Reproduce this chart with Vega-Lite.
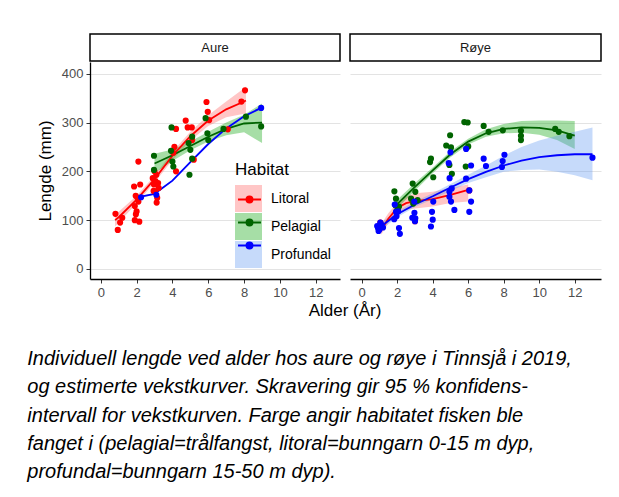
{
  "$schema": "https://vega.github.io/schema/vega-lite/v6.json",
  "background": "white",
  "padding": {"left": 27, "top": 33, "right": 5, "bottom": 5},
  "title": {
    "text": [
      "Individuell lengde ved alder hos aure og røye i Tinnsjå i 2019,",
      "og estimerte vekstkurver. Skravering gir 95 % konfidens-",
      "intervall for vekstkurven. Farge angir habitatet fisken ble",
      "fanget i (pelagial=trålfangst, litoral=bunngarn 0-15 m dyp,",
      "profundal=bunngarn 15-50 m dyp)."
    ],
    "orient": "bottom",
    "anchor": "start",
    "frame": "bounds",
    "font": "Liberation Sans",
    "fontSize": 20,
    "fontStyle": "italic",
    "fontWeight": "normal",
    "color": "black",
    "lineHeight": 28.3,
    "offset": 28,
    "dx": -9
  },
  "datasets": {
    "pts": [
      {"Art": "Aure", "Habitat": "Litoral", "Alder": 0.82, "Lengde": 113},
      {"Art": "Aure", "Habitat": "Litoral", "Alder": 0.95, "Lengde": 80},
      {"Art": "Aure", "Habitat": "Litoral", "Alder": 1.08, "Lengde": 95},
      {"Art": "Aure", "Habitat": "Litoral", "Alder": 1.2, "Lengde": 105},
      {"Art": "Aure", "Habitat": "Litoral", "Alder": 1.86, "Lengde": 169},
      {"Art": "Aure", "Habitat": "Litoral", "Alder": 1.9, "Lengde": 129},
      {"Art": "Aure", "Habitat": "Litoral", "Alder": 1.96, "Lengde": 112},
      {"Art": "Aure", "Habitat": "Litoral", "Alder": 1.9, "Lengde": 100},
      {"Art": "Aure", "Habitat": "Litoral", "Alder": 2.05, "Lengde": 146},
      {"Art": "Aure", "Habitat": "Litoral", "Alder": 2.15, "Lengde": 97},
      {"Art": "Aure", "Habitat": "Litoral", "Alder": 2.1, "Lengde": 220},
      {"Art": "Aure", "Habitat": "Litoral", "Alder": 2.2, "Lengde": 173},
      {"Art": "Aure", "Habitat": "Litoral", "Alder": 2.0, "Lengde": 118},
      {"Art": "Aure", "Habitat": "Litoral", "Alder": 2.1, "Lengde": 138},
      {"Art": "Aure", "Habitat": "Litoral", "Alder": 1.95, "Lengde": 150},
      {"Art": "Aure", "Habitat": "Litoral", "Alder": 2.9, "Lengde": 186},
      {"Art": "Aure", "Habitat": "Litoral", "Alder": 2.97, "Lengde": 173},
      {"Art": "Aure", "Habitat": "Litoral", "Alder": 3.04, "Lengde": 159},
      {"Art": "Aure", "Habitat": "Litoral", "Alder": 3.1, "Lengde": 193},
      {"Art": "Aure", "Habitat": "Litoral", "Alder": 3.2, "Lengde": 176},
      {"Art": "Aure", "Habitat": "Litoral", "Alder": 3.12, "Lengde": 136},
      {"Art": "Aure", "Habitat": "Litoral", "Alder": 3.15, "Lengde": 146},
      {"Art": "Aure", "Habitat": "Litoral", "Alder": 3.0, "Lengde": 200},
      {"Art": "Aure", "Habitat": "Litoral", "Alder": 3.23, "Lengde": 166},
      {"Art": "Aure", "Habitat": "Litoral", "Alder": 2.95, "Lengde": 160},
      {"Art": "Aure", "Habitat": "Litoral", "Alder": 3.05, "Lengde": 180},
      {"Art": "Aure", "Habitat": "Litoral", "Alder": 4.2, "Lengde": 287},
      {"Art": "Aure", "Habitat": "Litoral", "Alder": 4.11, "Lengde": 250},
      {"Art": "Aure", "Habitat": "Litoral", "Alder": 4.05, "Lengde": 238},
      {"Art": "Aure", "Habitat": "Litoral", "Alder": 4.2, "Lengde": 200},
      {"Art": "Aure", "Habitat": "Litoral", "Alder": 4.74, "Lengde": 304},
      {"Art": "Aure", "Habitat": "Litoral", "Alder": 4.85, "Lengde": 290},
      {"Art": "Aure", "Habitat": "Litoral", "Alder": 5.08, "Lengde": 290},
      {"Art": "Aure", "Habitat": "Litoral", "Alder": 5.1, "Lengde": 264},
      {"Art": "Aure", "Habitat": "Litoral", "Alder": 5.19, "Lengde": 224},
      {"Art": "Aure", "Habitat": "Litoral", "Alder": 5.9, "Lengde": 342},
      {"Art": "Aure", "Habitat": "Litoral", "Alder": 5.97, "Lengde": 322},
      {"Art": "Aure", "Habitat": "Litoral", "Alder": 6.05, "Lengde": 305},
      {"Art": "Aure", "Habitat": "Litoral", "Alder": 7.09, "Lengde": 286},
      {"Art": "Aure", "Habitat": "Litoral", "Alder": 7.85, "Lengde": 343},
      {"Art": "Aure", "Habitat": "Litoral", "Alder": 8.05, "Lengde": 366},
      {"Art": "Aure", "Habitat": "Pelagial", "Alder": 2.97, "Lengde": 232},
      {"Art": "Aure", "Habitat": "Pelagial", "Alder": 2.97, "Lengde": 203},
      {"Art": "Aure", "Habitat": "Pelagial", "Alder": 3.95, "Lengde": 290},
      {"Art": "Aure", "Habitat": "Pelagial", "Alder": 3.92, "Lengde": 242},
      {"Art": "Aure", "Habitat": "Pelagial", "Alder": 4.0, "Lengde": 220},
      {"Art": "Aure", "Habitat": "Pelagial", "Alder": 4.05, "Lengde": 210},
      {"Art": "Aure", "Habitat": "Pelagial", "Alder": 4.9, "Lengde": 258},
      {"Art": "Aure", "Habitat": "Pelagial", "Alder": 5.1, "Lengde": 271},
      {"Art": "Aure", "Habitat": "Pelagial", "Alder": 5.0, "Lengde": 244},
      {"Art": "Aure", "Habitat": "Pelagial", "Alder": 5.1, "Lengde": 226},
      {"Art": "Aure", "Habitat": "Pelagial", "Alder": 4.95, "Lengde": 193},
      {"Art": "Aure", "Habitat": "Pelagial", "Alder": 5.85, "Lengde": 309},
      {"Art": "Aure", "Habitat": "Pelagial", "Alder": 5.95, "Lengde": 278},
      {"Art": "Aure", "Habitat": "Pelagial", "Alder": 6.0, "Lengde": 264},
      {"Art": "Aure", "Habitat": "Pelagial", "Alder": 6.85, "Lengde": 287},
      {"Art": "Aure", "Habitat": "Pelagial", "Alder": 8.1, "Lengde": 312},
      {"Art": "Aure", "Habitat": "Pelagial", "Alder": 8.95, "Lengde": 292},
      {"Art": "Aure", "Habitat": "Profundal", "Alder": 2.25, "Lengde": 147},
      {"Art": "Aure", "Habitat": "Profundal", "Alder": 3.1, "Lengde": 152},
      {"Art": "Aure", "Habitat": "Profundal", "Alder": 8.95, "Lengde": 330},
      {"Art": "Røye", "Habitat": "Litoral", "Alder": 1.05, "Lengde": 95},
      {"Art": "Røye", "Habitat": "Litoral", "Alder": 2.03, "Lengde": 121},
      {"Art": "Røye", "Habitat": "Litoral", "Alder": 3.0, "Lengde": 98},
      {"Art": "Røye", "Habitat": "Litoral", "Alder": 6.06, "Lengde": 161},
      {"Art": "Røye", "Habitat": "Pelagial", "Alder": 1.84, "Lengde": 159},
      {"Art": "Røye", "Habitat": "Pelagial", "Alder": 1.93, "Lengde": 144},
      {"Art": "Røye", "Habitat": "Pelagial", "Alder": 1.9, "Lengde": 131},
      {"Art": "Røye", "Habitat": "Pelagial", "Alder": 2.03, "Lengde": 121},
      {"Art": "Røye", "Habitat": "Pelagial", "Alder": 2.1, "Lengde": 128},
      {"Art": "Røye", "Habitat": "Pelagial", "Alder": 2.87, "Lengde": 175},
      {"Art": "Røye", "Habitat": "Pelagial", "Alder": 3.02, "Lengde": 158},
      {"Art": "Røye", "Habitat": "Pelagial", "Alder": 2.78, "Lengde": 144},
      {"Art": "Røye", "Habitat": "Pelagial", "Alder": 3.15, "Lengde": 141},
      {"Art": "Røye", "Habitat": "Pelagial", "Alder": 2.9, "Lengde": 134},
      {"Art": "Røye", "Habitat": "Pelagial", "Alder": 3.9, "Lengde": 226},
      {"Art": "Røye", "Habitat": "Pelagial", "Alder": 3.85, "Lengde": 219},
      {"Art": "Røye", "Habitat": "Pelagial", "Alder": 4.03, "Lengde": 188},
      {"Art": "Røye", "Habitat": "Pelagial", "Alder": 4.98, "Lengde": 274},
      {"Art": "Røye", "Habitat": "Pelagial", "Alder": 4.76, "Lengde": 253},
      {"Art": "Røye", "Habitat": "Pelagial", "Alder": 5.03, "Lengde": 249},
      {"Art": "Røye", "Habitat": "Pelagial", "Alder": 4.94, "Lengde": 213},
      {"Art": "Røye", "Habitat": "Pelagial", "Alder": 5.08, "Lengde": 195},
      {"Art": "Røye", "Habitat": "Pelagial", "Alder": 5.78, "Lengde": 301},
      {"Art": "Røye", "Habitat": "Pelagial", "Alder": 5.97, "Lengde": 300},
      {"Art": "Røye", "Habitat": "Pelagial", "Alder": 5.86, "Lengde": 210},
      {"Art": "Røye", "Habitat": "Pelagial", "Alder": 6.0, "Lengde": 251},
      {"Art": "Røye", "Habitat": "Pelagial", "Alder": 6.87, "Lengde": 293},
      {"Art": "Røye", "Habitat": "Pelagial", "Alder": 7.15, "Lengde": 281},
      {"Art": "Røye", "Habitat": "Pelagial", "Alder": 7.95, "Lengde": 284},
      {"Art": "Røye", "Habitat": "Pelagial", "Alder": 8.97, "Lengde": 283},
      {"Art": "Røye", "Habitat": "Pelagial", "Alder": 8.97, "Lengde": 273},
      {"Art": "Røye", "Habitat": "Pelagial", "Alder": 8.97, "Lengde": 264},
      {"Art": "Røye", "Habitat": "Pelagial", "Alder": 10.9, "Lengde": 287},
      {"Art": "Røye", "Habitat": "Pelagial", "Alder": 11.1, "Lengde": 281},
      {"Art": "Røye", "Habitat": "Pelagial", "Alder": 11.7, "Lengde": 272},
      {"Art": "Røye", "Habitat": "Profundal", "Alder": 0.87, "Lengde": 88},
      {"Art": "Røye", "Habitat": "Profundal", "Alder": 1.0, "Lengde": 81},
      {"Art": "Røye", "Habitat": "Profundal", "Alder": 1.1, "Lengde": 91},
      {"Art": "Røye", "Habitat": "Profundal", "Alder": 0.95, "Lengde": 78},
      {"Art": "Røye", "Habitat": "Profundal", "Alder": 1.2, "Lengde": 85},
      {"Art": "Røye", "Habitat": "Profundal", "Alder": 1.05, "Lengde": 95},
      {"Art": "Røye", "Habitat": "Profundal", "Alder": 0.92, "Lengde": 84},
      {"Art": "Røye", "Habitat": "Profundal", "Alder": 1.86, "Lengde": 132},
      {"Art": "Røye", "Habitat": "Profundal", "Alder": 1.96, "Lengde": 108},
      {"Art": "Røye", "Habitat": "Profundal", "Alder": 2.1, "Lengde": 84},
      {"Art": "Røye", "Habitat": "Profundal", "Alder": 2.15, "Lengde": 72},
      {"Art": "Røye", "Habitat": "Profundal", "Alder": 2.05, "Lengde": 118},
      {"Art": "Røye", "Habitat": "Profundal", "Alder": 1.83, "Lengde": 102},
      {"Art": "Røye", "Habitat": "Profundal", "Alder": 1.93, "Lengde": 117},
      {"Art": "Røye", "Habitat": "Profundal", "Alder": 2.96, "Lengde": 138},
      {"Art": "Røye", "Habitat": "Profundal", "Alder": 2.97, "Lengde": 115},
      {"Art": "Røye", "Habitat": "Profundal", "Alder": 3.0, "Lengde": 98},
      {"Art": "Røye", "Habitat": "Profundal", "Alder": 2.85, "Lengde": 105},
      {"Art": "Røye", "Habitat": "Profundal", "Alder": 3.02, "Lengde": 104},
      {"Art": "Røye", "Habitat": "Profundal", "Alder": 3.96, "Lengde": 117},
      {"Art": "Røye", "Habitat": "Profundal", "Alder": 4.0, "Lengde": 101},
      {"Art": "Røye", "Habitat": "Profundal", "Alder": 3.9, "Lengde": 87},
      {"Art": "Røye", "Habitat": "Profundal", "Alder": 4.03, "Lengde": 138},
      {"Art": "Røye", "Habitat": "Profundal", "Alder": 4.9, "Lengde": 217},
      {"Art": "Røye", "Habitat": "Profundal", "Alder": 5.0, "Lengde": 239},
      {"Art": "Røye", "Habitat": "Profundal", "Alder": 4.95, "Lengde": 186},
      {"Art": "Røye", "Habitat": "Profundal", "Alder": 4.94, "Lengde": 158},
      {"Art": "Røye", "Habitat": "Profundal", "Alder": 4.94, "Lengde": 148},
      {"Art": "Røye", "Habitat": "Profundal", "Alder": 5.03, "Lengde": 138},
      {"Art": "Røye", "Habitat": "Profundal", "Alder": 5.22, "Lengde": 121},
      {"Art": "Røye", "Habitat": "Profundal", "Alder": 5.07, "Lengde": 165},
      {"Art": "Røye", "Habitat": "Profundal", "Alder": 5.88, "Lengde": 246},
      {"Art": "Røye", "Habitat": "Profundal", "Alder": 6.16, "Lengde": 212},
      {"Art": "Røye", "Habitat": "Profundal", "Alder": 5.88, "Lengde": 185},
      {"Art": "Røye", "Habitat": "Profundal", "Alder": 6.06, "Lengde": 161},
      {"Art": "Røye", "Habitat": "Profundal", "Alder": 6.16, "Lengde": 138},
      {"Art": "Røye", "Habitat": "Profundal", "Alder": 6.06, "Lengde": 117},
      {"Art": "Røye", "Habitat": "Profundal", "Alder": 6.87, "Lengde": 226},
      {"Art": "Røye", "Habitat": "Profundal", "Alder": 7.0, "Lengde": 211},
      {"Art": "Røye", "Habitat": "Profundal", "Alder": 8.04, "Lengde": 234},
      {"Art": "Røye", "Habitat": "Profundal", "Alder": 7.94, "Lengde": 221},
      {"Art": "Røye", "Habitat": "Profundal", "Alder": 7.9, "Lengde": 209},
      {"Art": "Røye", "Habitat": "Profundal", "Alder": 13.0, "Lengde": 228}
    ],
    "fit": [
      {"Art": "Aure", "Habitat": "Litoral", "Alder": 0.8, "fit": 100, "lo": 87, "hi": 114},
      {"Art": "Aure", "Habitat": "Litoral", "Alder": 1, "fit": 106, "lo": 95, "hi": 117},
      {"Art": "Aure", "Habitat": "Litoral", "Alder": 2, "fit": 142, "lo": 134, "hi": 150},
      {"Art": "Aure", "Habitat": "Litoral", "Alder": 3, "fit": 184, "lo": 177, "hi": 191},
      {"Art": "Aure", "Habitat": "Litoral", "Alder": 4, "fit": 232, "lo": 223, "hi": 240},
      {"Art": "Aure", "Habitat": "Litoral", "Alder": 5, "fit": 272, "lo": 263, "hi": 281},
      {"Art": "Aure", "Habitat": "Litoral", "Alder": 6, "fit": 304, "lo": 293, "hi": 315},
      {"Art": "Aure", "Habitat": "Litoral", "Alder": 7, "fit": 327, "lo": 311, "hi": 343},
      {"Art": "Aure", "Habitat": "Litoral", "Alder": 8, "fit": 343, "lo": 318, "hi": 370},
      {"Art": "Aure", "Habitat": "Litoral", "Alder": 8.1, "fit": 345, "lo": 318, "hi": 374},
      {"Art": "Aure", "Habitat": "Pelagial", "Alder": 3, "fit": 216, "lo": 196, "hi": 236},
      {"Art": "Aure", "Habitat": "Pelagial", "Alder": 4, "fit": 233, "lo": 221, "hi": 245},
      {"Art": "Aure", "Habitat": "Pelagial", "Alder": 5, "fit": 252, "lo": 243, "hi": 261},
      {"Art": "Aure", "Habitat": "Pelagial", "Alder": 6, "fit": 271, "lo": 261, "hi": 281},
      {"Art": "Aure", "Habitat": "Pelagial", "Alder": 7, "fit": 287, "lo": 274, "hi": 300},
      {"Art": "Aure", "Habitat": "Pelagial", "Alder": 8, "fit": 298, "lo": 280, "hi": 316},
      {"Art": "Aure", "Habitat": "Pelagial", "Alder": 9, "fit": 300, "lo": 258, "hi": 339},
      {"Art": "Aure", "Habitat": "Profundal", "Alder": 2.25, "fit": 148, "lo": 146, "hi": 150},
      {"Art": "Aure", "Habitat": "Profundal", "Alder": 3, "fit": 154, "lo": 152, "hi": 156},
      {"Art": "Aure", "Habitat": "Profundal", "Alder": 4, "fit": 181, "lo": 179, "hi": 183},
      {"Art": "Aure", "Habitat": "Profundal", "Alder": 5, "fit": 219, "lo": 217, "hi": 221},
      {"Art": "Aure", "Habitat": "Profundal", "Alder": 6, "fit": 256, "lo": 254, "hi": 258},
      {"Art": "Aure", "Habitat": "Profundal", "Alder": 7, "fit": 288, "lo": 286, "hi": 290},
      {"Art": "Aure", "Habitat": "Profundal", "Alder": 8, "fit": 313, "lo": 311, "hi": 315},
      {"Art": "Aure", "Habitat": "Profundal", "Alder": 8.95, "fit": 330, "lo": 328, "hi": 332},
      {"Art": "Røye", "Habitat": "Litoral", "Alder": 1.1, "fit": 80, "lo": 70, "hi": 92},
      {"Art": "Røye", "Habitat": "Litoral", "Alder": 1.5, "fit": 103, "lo": 94, "hi": 114},
      {"Art": "Røye", "Habitat": "Litoral", "Alder": 2, "fit": 125, "lo": 115, "hi": 136},
      {"Art": "Røye", "Habitat": "Litoral", "Alder": 2.5, "fit": 135, "lo": 122, "hi": 148},
      {"Art": "Røye", "Habitat": "Litoral", "Alder": 3, "fit": 139, "lo": 124, "hi": 155},
      {"Art": "Røye", "Habitat": "Litoral", "Alder": 4, "fit": 143, "lo": 128, "hi": 158},
      {"Art": "Røye", "Habitat": "Litoral", "Alder": 5, "fit": 152, "lo": 135, "hi": 166},
      {"Art": "Røye", "Habitat": "Litoral", "Alder": 6, "fit": 162, "lo": 138, "hi": 173},
      {"Art": "Røye", "Habitat": "Pelagial", "Alder": 1.8, "fit": 125, "lo": 115, "hi": 136},
      {"Art": "Røye", "Habitat": "Pelagial", "Alder": 2, "fit": 133, "lo": 124, "hi": 142},
      {"Art": "Røye", "Habitat": "Pelagial", "Alder": 3, "fit": 168, "lo": 161, "hi": 176},
      {"Art": "Røye", "Habitat": "Pelagial", "Alder": 4, "fit": 202, "lo": 196, "hi": 208},
      {"Art": "Røye", "Habitat": "Pelagial", "Alder": 5, "fit": 235, "lo": 229, "hi": 241},
      {"Art": "Røye", "Habitat": "Pelagial", "Alder": 6, "fit": 261, "lo": 255, "hi": 267},
      {"Art": "Røye", "Habitat": "Pelagial", "Alder": 7, "fit": 278, "lo": 271, "hi": 286},
      {"Art": "Røye", "Habitat": "Pelagial", "Alder": 8, "fit": 287, "lo": 278, "hi": 297},
      {"Art": "Røye", "Habitat": "Pelagial", "Alder": 9, "fit": 290, "lo": 279, "hi": 303},
      {"Art": "Røye", "Habitat": "Pelagial", "Alder": 10, "fit": 289, "lo": 275, "hi": 304},
      {"Art": "Røye", "Habitat": "Pelagial", "Alder": 11, "fit": 284, "lo": 264, "hi": 304},
      {"Art": "Røye", "Habitat": "Pelagial", "Alder": 12, "fit": 273, "lo": 246, "hi": 303},
      {"Art": "Røye", "Habitat": "Profundal", "Alder": 1, "fit": 85, "lo": 78, "hi": 93},
      {"Art": "Røye", "Habitat": "Profundal", "Alder": 2, "fit": 112, "lo": 106, "hi": 118},
      {"Art": "Røye", "Habitat": "Profundal", "Alder": 3, "fit": 132, "lo": 127, "hi": 138},
      {"Art": "Røye", "Habitat": "Profundal", "Alder": 4, "fit": 149, "lo": 143, "hi": 155},
      {"Art": "Røye", "Habitat": "Profundal", "Alder": 5, "fit": 167, "lo": 160, "hi": 174},
      {"Art": "Røye", "Habitat": "Profundal", "Alder": 6, "fit": 184, "lo": 176, "hi": 193},
      {"Art": "Røye", "Habitat": "Profundal", "Alder": 7, "fit": 199, "lo": 188, "hi": 212},
      {"Art": "Røye", "Habitat": "Profundal", "Alder": 8, "fit": 212, "lo": 199, "hi": 232},
      {"Art": "Røye", "Habitat": "Profundal", "Alder": 9, "fit": 222, "lo": 203, "hi": 250},
      {"Art": "Røye", "Habitat": "Profundal", "Alder": 10, "fit": 229, "lo": 204, "hi": 263},
      {"Art": "Røye", "Habitat": "Profundal", "Alder": 11, "fit": 233, "lo": 199, "hi": 273},
      {"Art": "Røye", "Habitat": "Profundal", "Alder": 12, "fit": 235, "lo": 192, "hi": 281},
      {"Art": "Røye", "Habitat": "Profundal", "Alder": 13, "fit": 235, "lo": 182, "hi": 290}
    ]
  },
  "spacing": 2,
  "vconcat": [
    {
      "spacing": 8,
      "hconcat": [
        {
          "spacing": 0,
          "vconcat": [
            {
              "width": 250,
              "height": 27,
              "view": {"stroke": "black", "strokeWidth": 1.5, "fill": "white"},
              "data": {"values": [{"t": "Aure"}]},
              "mark": {"type": "text", "font": "Liberation Sans", "fontSize": 13, "color": "#1a1a1a"},
              "encoding": {"text": {"field": "t", "type": "nominal"}}
            },
            {
              "width": 250,
              "height": 217,
              "layer": [
                {
                  "data": {"name": "fit"},
                  "transform": [{"filter": "datum.Art == 'Aure'"}],
                  "mark": {"type": "area", "opacity": 0.35},
                  "encoding": {
                    "x": {"field": "Alder", "type": "quantitative", "scale": {"domain": [-0.6, 13.35], "nice": false, "zero": false},
                      "axis": {"values": [0, 2, 4, 6, 8, 10, 12], "grid": false, "title": null, "labelFontSize": 13, "labelColor": "#4d4d4d",
                        "tickColor": "#333333", "tickSize": 4, "domainColor": "black", "domainWidth": 1.3, "labelPadding": 3}},
                    "y": {"field": "lo", "type": "quantitative", "scale": {"domain": [-20.5, 424], "nice": false, "zero": false},
                      "axis": {"values": [0, 50, 100, 150, 200, 250, 300, 350, 400], "title": "Lengde (mm)", "titleFontSize": 17, "titleFontWeight": "normal",
                        "titleColor": "black", "titlePadding": 7, "labelFontSize": 13, "labelColor": "#4d4d4d", "labelPadding": 3,
                        "labelExpr": "datum.value % 100 == 0 ? datum.label : ''",
                        "tickColor": {"condition": {"test": "datum.value % 100 == 0", "value": "#333333"}, "value": "transparent"},
                        "tickSize": 4, "domainColor": "black", "domainWidth": 1.3, "grid": true, "gridColor": "#e3e3e3", "gridWidth": 1}},
                    "y2": {"field": "hi"},
                    "fill": {"field": "Habitat", "type": "nominal",
                      "scale": {"domain": ["Litoral", "Pelagial", "Profundal"], "range": ["#ff5c5c", "#00a000", "#5c95f1"]},
                      "legend": {"orient": "none", "legendX": 145, "legendY": 128, "title": "Habitat", "titleFont": "Liberation Sans", "titleFontSize": 17,
                        "titleFontWeight": "normal", "titleColor": "black", "titlePadding": 6, "symbolType": "square", "symbolSize": 729,
                        "symbolStrokeWidth": 0, "symbolOpacity": 0.35, "labelFont": "Liberation Sans", "labelFontSize": 14, "labelColor": "black",
                        "labelOffset": 9, "rowPadding": 1, "padding": 0}}
                  }
                },
                {
                  "data": {"name": "fit"},
                  "transform": [{"filter": "datum.Art == 'Aure'"}],
                  "mark": {"type": "line", "strokeWidth": 1.8},
                  "encoding": {
                    "x": {"field": "Alder", "type": "quantitative"},
                    "y": {"field": "fit", "type": "quantitative"},
                    "color": {"field": "Habitat", "type": "nominal",
                      "scale": {"range": ["#ff0000", "#006400", "#0000ff"]},
                      "legend": {"orient": "none", "legendX": 145, "legendY": 128, "title": "Habitat", "titleFont": "Liberation Sans", "titleFontSize": 17,
                        "titleFontWeight": "normal", "titleOpacity": 0, "titlePadding": 6,
                        "symbolType": "M-0.85,0H0.85M-0.22,0A0.22,0.22,0,1,1,0.22,0A0.22,0.22,0,1,1,-0.22,0Z", "symbolSize": 729,
                        "symbolStrokeWidth": 2, "labelFont": "Liberation Sans", "labelFontSize": 14, "labelOpacity": 0, "labelExpr": "''",
                        "labelOffset": 9, "rowPadding": 1, "padding": 0,
                        "encode": {"symbols": {"update": {"fill": {"scale": "color", "field": "value"}, "stroke": {"scale": "color", "field": "value"}}}}}}
                  }
                },
                {
                  "data": {"name": "pts"},
                  "transform": [{"filter": "datum.Art == 'Aure'"}],
                  "mark": {"type": "circle", "size": 38, "opacity": 1},
                  "encoding": {
                    "x": {"field": "Alder", "type": "quantitative"},
                    "y": {"field": "Lengde", "type": "quantitative"},
                    "color": {"field": "Habitat", "type": "nominal"}
                  }
                }
              ]
            }
          ]
        },
        {
          "spacing": 0,
          "vconcat": [
            {
              "width": 251,
              "height": 27,
              "view": {"stroke": "black", "strokeWidth": 1.5, "fill": "white"},
              "data": {"values": [{"t": "Røye"}]},
              "mark": {"type": "text", "font": "Liberation Sans", "fontSize": 13, "color": "#1a1a1a"},
              "encoding": {"text": {"field": "t", "type": "nominal"}}
            },
            {
              "width": 251,
              "height": 217,
              "layer": [
                {
                  "data": {"name": "fit"},
                  "transform": [{"filter": "datum.Art == 'Røye'"}],
                  "mark": {"type": "area", "opacity": 0.35},
                  "encoding": {
                    "x": {"field": "Alder", "type": "quantitative", "scale": {"domain": [-0.66, 13.48], "nice": false, "zero": false},
                      "axis": {"values": [0, 2, 4, 6, 8, 10, 12], "grid": false, "title": null, "labelFontSize": 13, "labelColor": "#4d4d4d",
                        "tickColor": "#333333", "tickSize": 4, "domainColor": "black", "domainWidth": 1.3, "labelPadding": 3}},
                    "y": {"field": "lo", "type": "quantitative", "scale": {"domain": [-20.5, 424], "nice": false, "zero": false},
                      "axis": {"values": [0, 50, 100, 150, 200, 250, 300, 350, 400], "title": null, "labels": false, "ticks": false, "domain": false,
                        "grid": true, "gridColor": "#e3e3e3", "gridWidth": 1}},
                    "y2": {"field": "hi"},
                    "fill": {"field": "Habitat", "type": "nominal",
                      "scale": {"domain": ["Litoral", "Pelagial", "Profundal"], "range": ["#ff5c5c", "#00a000", "#5c95f1"]},
                      "legend": null}
                  }
                },
                {
                  "data": {"name": "fit"},
                  "transform": [{"filter": "datum.Art == 'Røye'"}],
                  "mark": {"type": "line", "strokeWidth": 1.8},
                  "encoding": {
                    "x": {"field": "Alder", "type": "quantitative"},
                    "y": {"field": "fit", "type": "quantitative"},
                    "color": {"field": "Habitat", "type": "nominal",
                      "scale": {"range": ["#ff0000", "#006400", "#0000ff"]},
                      "legend": null}
                  }
                },
                {
                  "data": {"name": "pts"},
                  "transform": [{"filter": "datum.Art == 'Røye'"}],
                  "mark": {"type": "circle", "size": 38, "opacity": 1},
                  "encoding": {
                    "x": {"field": "Alder", "type": "quantitative"},
                    "y": {"field": "Lengde", "type": "quantitative"},
                    "color": {"field": "Habitat", "type": "nominal", "legend": null}
                  }
                }
              ]
            }
          ]
        }
      ]
    },
    {
      "width": 510,
      "height": 20,
      "data": {"values": [{"t": "Alder (År)"}]},
      "mark": {"type": "text", "font": "Liberation Sans", "fontSize": 17, "color": "black"},
      "encoding": {"text": {"field": "t", "type": "nominal"}}
    }
  ],
  "config": {
    "font": "Liberation Sans",
    "view": {"stroke": null},
    "axis": {"labelFont": "Liberation Sans", "titleFont": "Liberation Sans"}
  }
}
